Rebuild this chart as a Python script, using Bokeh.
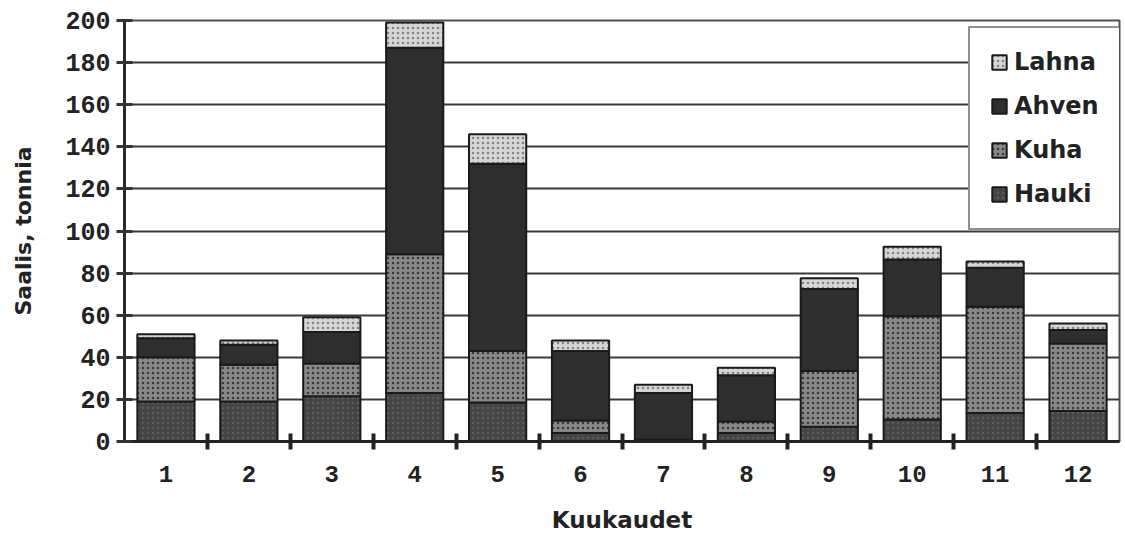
from bokeh.plotting import figure
from bokeh.models import (FixedTicker, Legend, LegendItem, Range1d, ColumnDataSource)
from bokeh.embed import file_html
from bokeh.resources import INLINE

months = [1, 2, 3, 4, 5, 6, 7, 8, 9, 10, 11, 12]
month_labels = ["1", "2", "3", "4", "5", "6", "7", "8", "9", "10", "11", "12"]
hauki = [19, 19, 21.5, 23, 18.5, 4, 0.5, 4, 7, 10.5, 13.5, 14.5]
kuha = [21, 17.5, 15.5, 66, 24.5, 6, 0.5, 5.5, 26.5, 49, 50.5, 32]
ahven = [9, 9.5, 15, 98, 89, 33, 22, 22, 39, 27, 18.5, 6.5]
lahna = [2, 2, 7, 12, 14, 5, 4, 3.5, 5, 6, 3, 3]
series = ["Hauki", "Kuha", "Ahven", "Lahna"]
y_ticks = [0, 20, 40, 60, 80, 100, 120, 140, 160, 180, 200]

src = ColumnDataSource(dict(x=months, Hauki=hauki, Kuha=kuha, Ahven=ahven, Lahna=lahna))

p = figure(width=1121, height=540, frame_width=995, frame_height=421,
           min_border_left=124, min_border_right=2, min_border_top=20, min_border_bottom=99,
           x_range=Range1d(0.5, 12.5), y_range=Range1d(0, 200),
           output_backend="svg", toolbar_location=None)
p.background_fill_color = "white"
p.border_fill_color = "white"
p.outline_line_color = "#505050"
p.outline_line_width = 2

renderers = p.vbar_stack(series, x="x", width=0.69, source=src,
                         fill_color=["#454545", "#888888", "#2e2e2e", "#d6d6d6"],
                         line_color="#1a1a1a", line_width=2,
                         hatch_pattern=["dot", "dot", " ", "dot"],
                         hatch_color=["#5c5c5c", "#383838", "#2e2e2e", "#828282"],
                         hatch_scale=5, hatch_weight=1.5)

# axes
mono = "Liberation Mono"
xa = p.xaxis[0]
xa.ticker = FixedTicker(ticks=months, minor_ticks=[m + 0.5 for m in months[:-1]])
xa.major_label_overrides = {m: l for m, l in zip(months, month_labels)}
xa.major_tick_line_color = None
xa.major_tick_out = 8
xa.major_tick_in = 0
xa.minor_tick_line_color = "#222222"
xa.minor_tick_line_width = 4
xa.minor_tick_in = 8
xa.minor_tick_out = 8
xa.major_label_standoff = 16
xa.major_label_text_font = mono
xa.major_label_text_font_style = "bold"
xa.major_label_text_font_size = "24px"
xa.major_label_text_color = "#222222"
xa.axis_line_color = "#222222"
xa.axis_line_width = 3
xa.axis_label = "Kuukaudet"
xa.axis_label_text_font = "DejaVu Sans"
xa.axis_label_text_font_style = "bold"
xa.axis_label_text_font_size = "23px"
xa.axis_label_text_color = "#222222"
xa.axis_label_standoff = 22

ya = p.yaxis[0]
ya.ticker = FixedTicker(ticks=y_ticks)
ya.major_tick_line_color = "#333333"
ya.major_tick_line_width = 3
ya.major_tick_in = 8
ya.major_tick_out = 8
ya.minor_tick_line_color = None
ya.major_label_standoff = 6
ya.major_label_text_font = mono
ya.major_label_text_font_style = "bold"
ya.major_label_text_font_size = "25px"
ya.major_label_text_color = "#222222"
ya.axis_line_color = "#2a2a2a"
ya.axis_line_width = 3
ya.axis_label = "Saalis, tonnia"
ya.axis_label_text_font = "DejaVu Sans"
ya.axis_label_text_font_style = "bold"
ya.axis_label_text_font_size = "22px"
ya.axis_label_text_color = "#222222"
ya.axis_label_standoff = 26

p.xgrid.grid_line_color = None
p.ygrid.ticker = FixedTicker(ticks=y_ticks)
p.ygrid.grid_line_color = "#3a3a3a"
p.ygrid.grid_line_width = 1.8

by_name = dict(zip(series, renderers))
legend = Legend(items=[LegendItem(label=n, renderers=[by_name[n]]) for n in ["Lahna", "Ahven", "Kuha", "Hauki"]])
legend.margin = 0
legend.padding = 20
legend.spacing = 16
legend.glyph_width = 18
legend.glyph_height = 18
legend.label_standoff = 6
legend.label_text_font = "DejaVu Sans"
legend.label_text_font_style = "bold"
legend.label_text_font_size = "24px"
legend.label_text_color = "#222222"
legend.border_line_color = "#222222"
legend.border_line_width = 2
legend.background_fill_color = "white"
legend.background_fill_alpha = 1
legend.location = (844, 211)
p.add_layout(legend, "center")

open("out.html", "w").write(file_html(p, INLINE))
